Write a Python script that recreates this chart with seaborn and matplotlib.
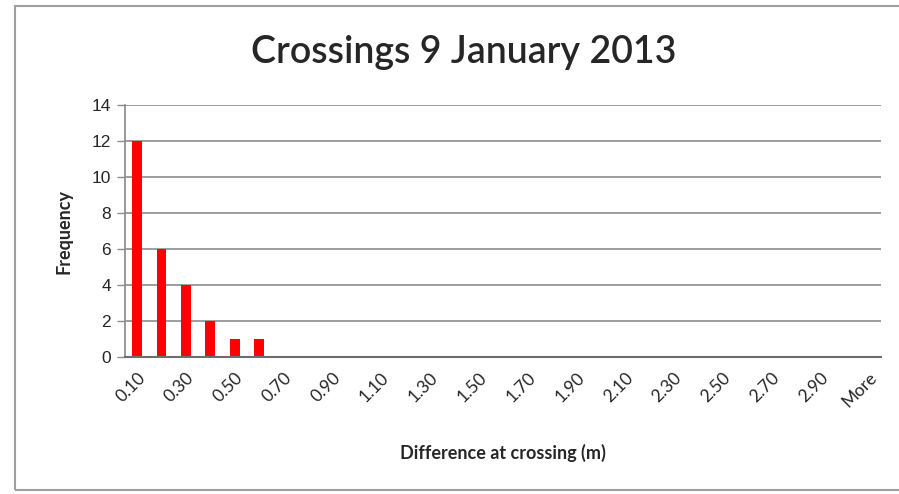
import matplotlib
matplotlib.use("Agg")
import matplotlib.pyplot as plt
import seaborn as sns
import pandas as pd
from matplotlib.patches import Rectangle

# Bins (upper edges) as shown on the Excel histogram, plus the overflow bin
bins = [f"{0.1 * i:.2f}" for i in range(1, 31)] + ["More"]
frequency = [12, 6, 4, 2, 1, 1] + [0] * 25

df = pd.DataFrame({"bin": bins, "frequency": frequency})

sns.set_theme(style="white")
plt.rcParams["font.family"] = ["Lato", "DejaVu Sans"]

GRID = "#8c8c8c"

fig = plt.figure(figsize=(8.99, 4.94), dpi=100)
ax = fig.add_axes([0.139, 0.2773, 0.841, 0.5101])

sns.barplot(data=df, x="bin", y="frequency", color="#ff0000",
            saturation=1, width=0.4, linewidth=0, ax=ax)

ax.set_ylim(0, 14)
ax.set_yticks(range(0, 15, 2))
ax.set_xlim(-0.5, len(bins) - 0.5)
ax.yaxis.grid(True, color=GRID, linewidth=1.2)
ax.set_axisbelow(True)

for side in ["top", "right"]:
    ax.spines[side].set_visible(False)
ax.spines["left"].set_color(GRID)
ax.spines["bottom"].set_color("#6e6e6e")
ax.spines["bottom"].set_linewidth(1.5)

ax.tick_params(axis="y", which="major", left=True, length=6, width=1,
               color=GRID, labelsize=12.5, pad=4)
ax.tick_params(axis="x", bottom=False, labelsize=12.5, pad=3)
for lbl in ax.get_yticklabels():
    lbl.set_family(["Liberation Sans", "DejaVu Sans"])

labels = [b if i % 2 == 0 else "" for i, b in enumerate(bins)]
ax.set_xticks(range(len(bins)))
ax.set_xticklabels(labels, rotation=45, ha="right", va="top",
                   rotation_mode="anchor")

ax.set_xlabel("Difference at crossing (m)", fontsize=13, fontweight="bold",
              labelpad=24)
ax.set_ylabel("Frequency", fontsize=13, fontweight="bold", labelpad=14)

fig.text(0.516, 0.894, "Crossings 9 January 2013", ha="center", va="center",
         fontsize=27, fontweight="semibold")

# thin chart-area frame like the Excel export
fig.patches.append(Rectangle((15 / 899, 4 / 494), 1.0, 484 / 494,
                             transform=fig.transFigure, fill=False,
                             edgecolor="#a0a0a0", linewidth=1.5))

fig.savefig("out.png", dpi=100)
